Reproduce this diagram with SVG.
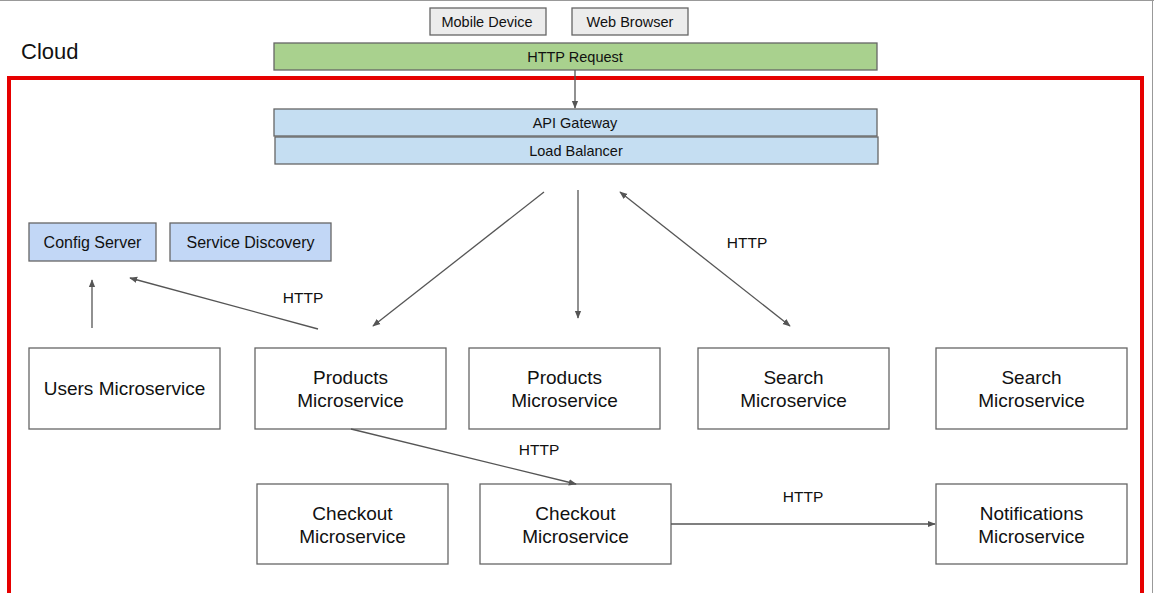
<svg xmlns="http://www.w3.org/2000/svg" width="1154" height="593" viewBox="0 0 1154 593">
<defs>
<marker id="ah" viewBox="0 0 10 10" refX="9" refY="5" markerWidth="8" markerHeight="8" orient="auto-start-reverse" markerUnits="userSpaceOnUse">
<path d="M0,1 L10,5 L0,9 z" fill="#555"/>
</marker>
<style>
text{font-family:"Liberation Sans",Arial,sans-serif;fill:#111;text-anchor:middle}
.sm{font-size:14.5px}
.md{font-size:15.5px}
.cs{font-size:16px}
.lg{font-size:19px}
.box{fill:#fff;stroke:#666;stroke-width:1.3}
.gray{fill:#ececec;stroke:#666;stroke-width:1.3}
.green{fill:#a9d18e;stroke:#666;stroke-width:1.3}
.blue{fill:#c5def2;stroke:#666;stroke-width:1.3}
.blue2{fill:#c2d7f6;stroke:#666;stroke-width:1.3}
.conn line{stroke:#555;stroke-width:1.3}
</style>
</defs>
<rect x="0" y="0" width="1154" height="593" fill="#fff"/>
<line x1="0" y1="0.5" x2="1154" y2="0.5" stroke="#999"/>
<line x1="1152.5" y1="0" x2="1152.5" y2="593" stroke="#999"/>
<text x="21" y="59" style="font-size:22px;text-anchor:start">Cloud</text>
<rect x="9" y="78" width="1133" height="530" fill="none" stroke="#e60000" stroke-width="4"/>

<g id="mobile"><rect class="gray" x="430" y="8" width="116" height="27"/><text class="sm" x="487" y="27">Mobile Device</text></g>
<g id="web"><rect class="gray" x="572" y="8" width="116" height="27"/><text class="sm" x="630" y="27">Web Browser</text></g>
<g id="http"><rect class="green" x="274" y="43" width="603" height="27"/><text class="sm" x="575" y="62">HTTP Request</text></g>
<g id="gateway"><rect class="blue" x="274" y="109" width="603" height="27"/><text class="sm" x="575" y="128">API Gateway</text></g>
<g id="lb"><rect class="blue" x="275" y="137" width="603" height="27"/><text class="sm" x="576" y="156">Load Balancer</text></g>
<g id="config"><rect class="blue2" x="29" y="223" width="127" height="38"/><text class="cs" x="92.5" y="248">Config Server</text></g>
<g id="discovery"><rect class="blue2" x="170" y="223" width="161" height="38"/><text class="cs" x="250.5" y="248">Service Discovery</text></g>

<g id="users"><rect class="box" x="29" y="348" width="191" height="81"/><text class="lg" x="124.5" y="395">Users Microservice</text></g>
<g id="products1"><rect class="box" x="255" y="348" width="191" height="81"/><text class="lg" x="350.5" y="384">Products</text><text class="lg" x="350.5" y="407">Microservice</text></g>
<g id="products2"><rect class="box" x="469" y="348" width="191" height="81"/><text class="lg" x="564.5" y="384">Products</text><text class="lg" x="564.5" y="407">Microservice</text></g>
<g id="search1"><rect class="box" x="698" y="348" width="191" height="81"/><text class="lg" x="793.5" y="384">Search</text><text class="lg" x="793.5" y="407">Microservice</text></g>
<g id="search2"><rect class="box" x="936" y="348" width="191" height="81"/><text class="lg" x="1031.5" y="384">Search</text><text class="lg" x="1031.5" y="407">Microservice</text></g>
<g id="checkout1"><rect class="box" x="257" y="484" width="191" height="80"/><text class="lg" x="352.5" y="520">Checkout</text><text class="lg" x="352.5" y="543">Microservice</text></g>
<g id="checkout2"><rect class="box" x="480" y="484" width="191" height="80"/><text class="lg" x="575.5" y="520">Checkout</text><text class="lg" x="575.5" y="543">Microservice</text></g>
<g id="notifications"><rect class="box" x="936" y="484" width="191" height="80"/><text class="lg" x="1031.5" y="520">Notifications</text><text class="lg" x="1031.5" y="543">Microservice</text></g>

<g id="connectors" class="conn">
<line x1="575" y1="70" x2="575" y2="108" marker-end="url(#ah)"/>
<line x1="92" y1="328" x2="92" y2="280" marker-end="url(#ah)"/>
<line x1="318" y1="329" x2="130" y2="278" marker-end="url(#ah)"/>
<line x1="544" y1="192" x2="373" y2="326" marker-end="url(#ah)"/>
<line x1="578" y1="190" x2="578" y2="318" marker-end="url(#ah)"/>
<line x1="620" y1="192" x2="790" y2="326" marker-start="url(#ah)" marker-end="url(#ah)"/>
<line x1="351" y1="429" x2="576" y2="484" marker-end="url(#ah)"/>
<line x1="671" y1="524" x2="935" y2="524" marker-end="url(#ah)"/>
<text class="md" x="303" y="303">HTTP</text>
<text class="md" x="747" y="248">HTTP</text>
<text class="md" x="539" y="455">HTTP</text>
<text class="md" x="803" y="502">HTTP</text>
</g>
</svg>
